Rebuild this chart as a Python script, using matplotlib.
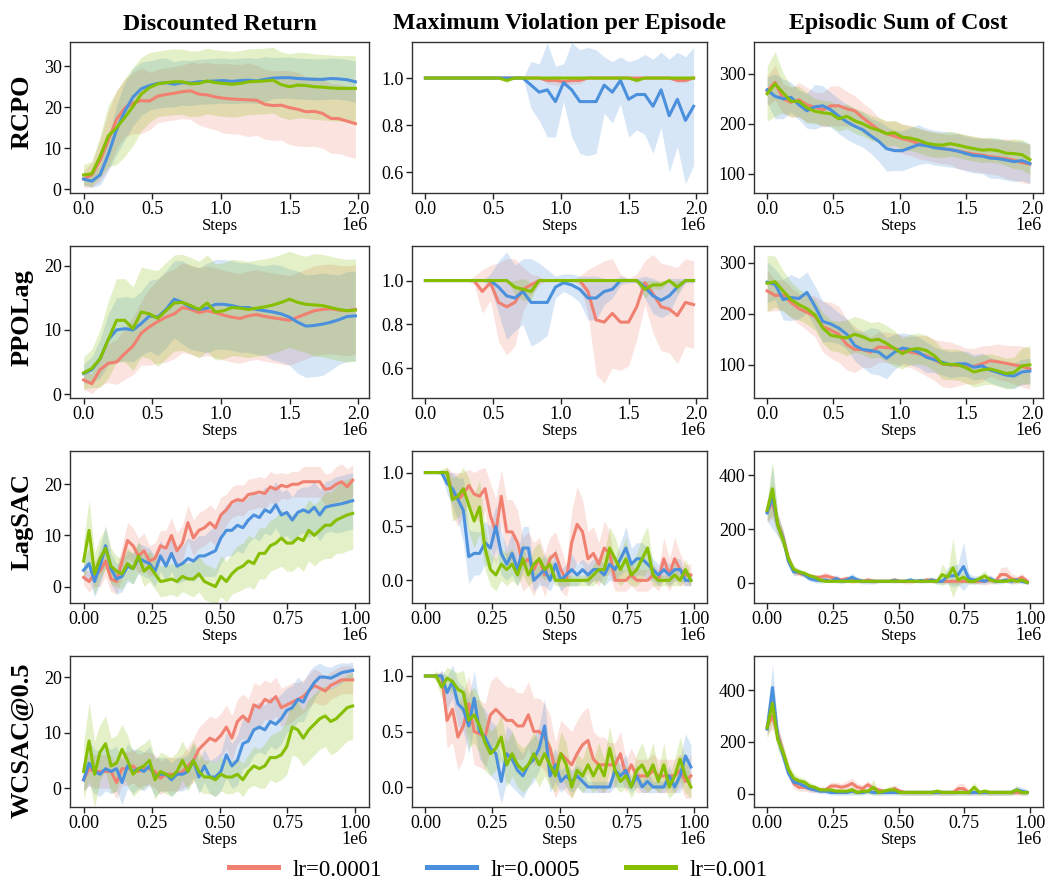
import numpy as np
import matplotlib
matplotlib.use("Agg")
import matplotlib.pyplot as plt
from matplotlib.lines import Line2D

plt.rcParams['font.family'] = ['Liberation Serif', 'DejaVu Serif']

# ---------------- data ----------------
METRICS = ["Discounted Return", "Maximum Violation per Episode", "Episodic Sum of Cost"]
ALGOS = ["RCPO", "PPOLag", "LagSAC", "WCSAC@0.5"]
LABELS = ["lr=0.0001", "lr=0.0005", "lr=0.001"]
COLORS = ["#F08070", "#4A90DC", "#86BE00"]

steps_long = np.linspace(0, 1.98e6, 34)    # RCPO, PPOLag
steps_short = np.linspace(0, 0.99e6, 50)   # LagSAC, WCSAC

# ---- RCPO ----
rcpo_ret_r = [2.5, 3.5, 7, 12, 17, 19.8, 21, 21.6, 21.5, 22.7, 23.1, 23.4, 23.8, 24, 23.2, 23, 22.5, 22.2, 22, 21.9,
              21.8, 21.7, 20.7, 20.4, 20.5, 19.9, 19.5, 18.9, 19, 18.5, 17.3, 17.2, 16.6, 16]
rcpo_ret_r_sd = [2, 3, 5, 7, 7, 7, 7.5, 8, 7, 6.5, 6.5, 6.5, 6.5, 7, 7.5, 8, 8, 8.5, 8.5, 8.5,
                 9, 8.5, 8.5, 8.5, 8.5, 9, 9, 8.5, 8.5, 8.5, 8.5, 8.5, 8.5, 8.5]
rcpo_ret_b = [2.5, 2, 3.5, 8.5, 14.5, 19, 22.5, 24.5, 25.3, 25.8, 26, 25.6, 26, 25.9, 26.2, 26.3, 26.4, 26.5, 26.3, 26.5,
              26.6, 26.4, 26.8, 27.1, 27.2, 27.2, 27, 26.9, 26.8, 26.8, 27, 26.9, 26.7, 26.2]
rcpo_ret_b_sd = [1.5, 1.5, 2.5, 4, 6, 7, 7, 6.5, 6, 6, 6, 5.5, 5.5, 5.5, 5.5, 5.5, 5.5, 5.5, 5.5, 5.5,
                 5.5, 5.5, 5.5, 5, 5, 5, 5, 5, 5, 5, 5, 5, 5, 5]
rcpo_ret_g = [3.5, 3.8, 8, 13, 15, 17.5, 20.2, 23.2, 24.8, 25.7, 26, 26.2, 26.2, 25.7, 25.8, 26.4, 26, 25.8, 25.6, 25.8,
              26.2, 26.3, 26.4, 26.6, 25.5, 25, 25.4, 25.3, 25, 24.9, 24.7, 24.6, 24.6, 24.6]
rcpo_ret_g_sd = [2.5, 3, 5, 7.5, 9, 9.5, 9.5, 9, 8.5, 8, 8, 8, 8, 8, 8, 8, 8, 8, 8, 8,
                 8, 8, 8, 8, 8, 8, 8, 8, 8, 8, 8, 8, 8, 8]

rcpo_vio_r = [1, 1, 1, 1, 1, 1, 1, 1, 1, 1, 1, 1, 1, 1, 1, 0.99, 0.99, 0.985, 0.99, 0.99,
              1, 1, 1, 1, 1, 1, 1, 1, 1, 1, 1, 0.99, 0.99, 1]
rcpo_vio_r_sd = [0, 0, 0, 0, 0, 0, 0, 0, 0, 0, 0, 0, 0, 0, 0, 0.015, 0.02, 0.02, 0.015, 0.015,
                 0, 0, 0, 0, 0, 0, 0, 0, 0, 0, 0, 0.01, 0.01, 0]
rcpo_vio_b = [1, 1, 1, 1, 1, 1, 1, 1, 1, 1, 1, 1, 1, 0.97, 0.94, 0.95, 0.90, 0.98, 0.95, 0.90,
              0.90, 0.90, 0.97, 0.94, 0.99, 0.91, 0.93, 0.93, 0.88, 0.95, 0.84, 0.91, 0.82, 0.88]
rcpo_vio_b_sd = [0, 0, 0, 0, 0, 0, 0, 0, 0, 0, 0, 0, 0, 0.1, 0.12, 0.2, 0.15, 0.08, 0.2, 0.22,
                 0.23, 0.22, 0.12, 0.13, 0.1, 0.16, 0.15, 0.17, 0.2, 0.16, 0.24, 0.2, 0.27, 0.25]
rcpo_vio_g = [1, 1, 1, 1, 1, 1, 1, 1, 1, 1, 0.99, 1, 1, 1, 1, 1, 1, 1, 1, 1,
              1, 1, 1, 1, 1, 1, 0.99, 1, 1, 1, 1, 1, 1, 1]
rcpo_vio_g_sd = [0, 0, 0, 0, 0, 0, 0, 0, 0, 0, 0.01, 0, 0, 0, 0, 0, 0, 0, 0, 0,
                 0, 0, 0, 0, 0, 0, 0.01, 0, 0, 0, 0, 0, 0, 0]

rcpo_cost_r = [265, 283, 250, 243, 248, 238, 233, 228, 236, 236, 230, 226, 212, 200, 188, 180, 175, 170, 166, 160,
               157, 153, 150, 148, 145, 142, 139, 137, 134, 132, 130, 127, 122, 119]
rcpo_cost_r_sd = [30, 35, 30, 30, 35, 35, 30, 35, 40, 40, 35, 30, 30, 30, 25, 25, 30, 30, 30, 30,
                  30, 30, 30, 30, 35, 35, 35, 35, 35, 35, 40, 40, 40, 40]
rcpo_cost_b = [268, 255, 250, 253, 238, 226, 234, 236, 228, 215, 204, 195, 188, 176, 165, 150, 146, 146, 152, 158,
               156, 152, 150, 148, 145, 140, 136, 135, 131, 130, 127, 124, 126, 120]
rcpo_cost_b_sd = [25, 45, 40, 30, 30, 35, 45, 40, 35, 35, 35, 35, 35, 35, 40, 45, 40, 40, 40, 40,
                  35, 35, 35, 35, 35, 35, 35, 35, 40, 40, 40, 40, 40, 40]
rcpo_cost_g = [260, 280, 262, 245, 245, 232, 225, 222, 220, 210, 215, 206, 200, 192, 187, 180, 182, 173, 171, 167,
               161, 158, 157, 160, 157, 153, 150, 147, 148, 146, 141, 140, 138, 128]
rcpo_cost_g_sd = [55, 65, 40, 30, 30, 30, 25, 25, 25, 25, 25, 25, 25, 25, 25, 25, 25, 25, 25, 25,
                  25, 25, 25, 25, 25, 25, 25, 25, 25, 25, 25, 30, 30, 30]

# ---- PPOLag ----
ppo_ret_r = [2.2, 1.6, 3.8, 4.8, 5, 6.3, 7.5, 9.5, 10.5, 11.3, 12, 12.5, 13.5, 13.2, 12.7, 13, 12.7, 12.3, 12, 11.8,
             12.2, 12.4, 12.1, 11.9, 11.7, 11.5, 12, 12.5, 13, 13.2, 13.3, 13.1, 13, 13.2]
ppo_ret_r_sd = [1.5, 1.5, 2.5, 3, 3.5, 4, 4.5, 5, 6, 6.5, 7, 7, 7, 7, 7, 7, 7, 7, 7, 7,
                7, 7, 7, 7, 7, 7, 7, 7, 7, 7, 7, 7, 7, 7]
ppo_ret_b = [3.2, 3.8, 5.5, 8.5, 10, 10.2, 10, 11, 12.2, 12, 13.2, 14.8, 14.3, 13.5, 13.2, 13.4, 14, 14, 13.8, 13.5,
             13.5, 13.2, 13, 12.8, 12.5, 12, 11.2, 10.6, 10.7, 10.9, 11.2, 11.6, 12.1, 12.2]
ppo_ret_b_sd = [1.5, 2, 3, 4, 5, 5, 5, 5, 5.5, 6, 6, 6, 6.5, 6.5, 6.5, 7, 7, 7, 7, 7,
                7, 7, 7, 7.5, 7.5, 7.5, 8, 8, 8, 8, 7.5, 7, 7, 7]
ppo_ret_g = [3.3, 4, 5.5, 8.5, 11.5, 11.5, 10.2, 12.8, 12.5, 11.8, 13, 14.2, 14.3, 13.8, 13.2, 14.2, 12.8, 13, 13.5, 13.4,
             13.2, 13.4, 13.6, 13.9, 14.3, 14.8, 14.3, 14, 13.9, 13.8, 13.5, 13.2, 13, 13.1]
ppo_ret_g_sd = [2.5, 3, 4.5, 6, 6.5, 6.5, 6.5, 7, 7, 7.5, 7.5, 7.5, 7.5, 7.5, 7.5, 7.5, 7.5, 7.5, 7.5, 7.5,
                7.5, 7.5, 7.5, 7.5, 7.5, 7.5, 7.5, 7.5, 8, 8, 8, 8, 8, 8]

ppo_vio_r = [1, 1, 1, 1, 1, 1, 1, 0.95, 0.99, 0.9, 0.88, 0.9, 0.96, 0.98, 1.0, 1.0, 1.0, 1.0, 1.0, 1.0,
             0.95, 0.82, 0.81, 0.85, 0.81, 0.81, 0.88, 0.99, 0.94, 0.88, 0.87, 0.84, 0.9, 0.89]
ppo_vio_r_sd = [0, 0, 0, 0, 0, 0, 0.02, 0.1, 0.08, 0.18, 0.22, 0.2, 0.1, 0.05, 0.02, 0, 0, 0, 0, 0.02,
                0.1, 0.25, 0.28, 0.25, 0.22, 0.2, 0.15, 0.1, 0.18, 0.2, 0.2, 0.22, 0.2, 0.2]
ppo_vio_b = [1, 1, 1, 1, 1, 1, 1, 1, 1, 0.97, 0.93, 0.92, 0.95, 0.9, 0.9, 0.9, 0.97, 0.99, 0.98, 0.96,
             0.92, 0.92, 0.95, 0.96, 1.0, 1.0, 1.0, 0.97, 0.93, 0.91, 0.93, 0.97, 1.0, 1.0]
ppo_vio_b_sd = [0, 0, 0, 0, 0, 0, 0, 0, 0.03, 0.12, 0.2, 0.15, 0.15, 0.2, 0.18, 0.15, 0.05, 0.04, 0.05, 0.06,
                0.1, 0.1, 0.06, 0.04, 0.02, 0.01, 0.01, 0.05, 0.08, 0.08, 0.08, 0.04, 0.01, 0.01]
ppo_vio_g = [1, 1, 1, 1, 1, 1, 1, 1, 1, 1, 1, 0.97, 0.96, 0.95, 1, 1, 1, 1, 1, 1,
             1, 1, 1, 1, 1, 1, 1, 0.96, 0.98, 0.98, 1, 0.97, 1, 1]
ppo_vio_g_sd = [0, 0, 0, 0, 0, 0, 0, 0, 0, 0, 0, 0.03, 0.05, 0.04, 0, 0, 0, 0, 0, 0,
                0, 0, 0, 0, 0, 0, 0, 0.04, 0.02, 0.02, 0, 0.03, 0, 0]

ppo_cost_r = [245, 236, 237, 222, 210, 203, 195, 175, 168, 160, 140, 130, 130, 125, 135, 134, 132, 128, 125, 122,
              118, 110, 102, 100, 99, 98, 97, 102, 108, 106, 103, 100, 97, 92]
ppo_cost_r_sd = [40, 30, 30, 30, 30, 35, 40, 50, 55, 55, 50, 45, 35, 30, 30, 30, 30, 30, 30, 35,
                 40, 40, 45, 45, 40, 35, 35, 35, 30, 35, 35, 38, 40, 40]
ppo_cost_b = [262, 258, 228, 232, 230, 242, 215, 185, 180, 172, 160, 138, 130, 128, 125, 113, 125, 133, 130, 125,
              115, 110, 105, 100, 102, 102, 95, 98, 90, 85, 80, 78, 86, 88]
ppo_cost_b_sd = [40, 30, 40, 45, 40, 40, 40, 40, 35, 30, 30, 30, 35, 45, 45, 40, 35, 30, 30, 30,
                 30, 25, 25, 25, 25, 25, 25, 25, 25, 25, 25, 25, 25, 25]
ppo_cost_g = [260, 263, 245, 228, 218, 210, 198, 172, 158, 155, 153, 160, 155, 148, 150, 142, 132, 122, 130, 132,
              128, 118, 102, 101, 100, 94, 86, 90, 92, 88, 83, 85, 98, 100]
ppo_cost_g_sd = [55, 50, 40, 35, 30, 30, 30, 30, 30, 30, 35, 35, 35, 35, 35, 35, 35, 30, 30, 30,
                 30, 30, 30, 30, 30, 30, 30, 30, 30, 30, 30, 30, 35, 38]

# ---- LagSAC ----
lag_ret_r = [1.8, 1.0, 2.5, 3.0, 5.0, 1.5, 1.0, 5.0, 9.0, 8.0, 6.0, 7.0, 5.0, 5.5, 8.0, 7.5, 10.0, 7.0, 8.5, 12.5,
             9.5, 11.0, 11.5, 12.5, 11.5, 14.0, 15.0, 16.5, 17.0, 16.8, 18.0, 18.2, 18.5, 18.2, 19.5, 19.0, 19.8, 19.5, 20.0, 20.0,
             20.5, 20.5, 20.5, 20.5, 19.0, 19.2, 20.0, 20.5, 19.5, 20.8]
lag_ret_r_sd = [1.5, 2, 2.5, 3, 3, 2.5, 2.5, 3, 3.5, 3.5, 3.5, 3.5, 3, 3, 3, 3.5, 3.5, 3.5, 3.5, 3.5,
                3.5, 3.5, 3.5, 3.5, 3.5, 3.5, 3, 3, 3, 3, 3, 3, 3, 3, 3, 3, 2.5, 2.5, 2.5, 2.5,
                3, 3, 3, 3, 3, 3, 3.5, 3.5, 3.5, 3]
lag_ret_b = [3.2, 4.5, 1.0, 4.0, 8.0, 3.5, 1.5, 2.0, 4.0, 3.5, 5.5, 5.0, 4.5, 3.0, 6.0, 4.0, 6.5, 4.0, 4.5, 5.5,
             5.0, 6.0, 6.0, 6.5, 7.0, 9.5, 11.0, 11.0, 12.0, 11.5, 13.0, 14.0, 13.5, 15.0, 14.5, 16.0, 14.0, 14.5, 13.0, 14.5,
             15.0, 14.5, 15.5, 14.0, 15.5, 15.8, 16.0, 16.2, 16.5, 16.8]
lag_ret_b_sd = [2, 3, 3, 3.5, 4, 3, 3, 3, 3, 3, 3, 3, 3, 3, 3, 3, 3.5, 3.5, 3.5, 4,
                4, 4, 4, 4.5, 5, 5, 5, 5, 5, 5, 4.5, 4.5, 4.5, 4.5, 4.5, 4.5, 4.5, 4.5, 4.5, 4.5,
                4.5, 5, 5, 5, 5, 5, 5.5, 5.5, 5.5, 5.5]
lag_ret_g = [5.0, 11.0, 2.5, 5.5, 7.5, 4.0, 3.0, 2.5, 4.5, 3.5, 6.0, 3.0, 4.0, 2.5, 1.0, 1.2, 1.5, 1.0, 2.0, 1.5,
             1.5, 2.5, 1.0, 0.5, 0.0, 2.0, 1.0, 2.5, 3.5, 4.0, 5.0, 4.5, 6.5, 6.5, 8.0, 8.5, 9.5, 8.5, 8.5, 9.5,
             9.0, 11.0, 10.0, 11.0, 12.0, 12.0, 13.0, 13.5, 14.0, 14.3]
lag_ret_g_sd = [4, 6, 4, 4, 4, 3.5, 3, 3, 3, 3, 3, 3, 3, 3, 3, 3, 3, 3, 3, 3,
                3.5, 3.5, 3.5, 3.5, 3.5, 4, 4, 4, 4.5, 4.5, 5, 5, 5, 5, 5, 5, 5.5, 5.5, 5.5, 5.5,
                6, 6, 6, 6, 6.5, 6.5, 6.5, 7, 7, 7]

lag_vio_r = [1, 1, 1, 1, 1, 0.8, 0.75, 0.8, 0.88, 0.8, 0.78, 0.85, 0.6, 0.45, 0.78, 0.45, 0.45, 0.35, 0.15, 0.2,
             0.1, 0.2, 0.05, 0.2, 0.25, 0.1, 0.0, 0.35, 0.52, 0.45, 0.2, 0.25, 0.15, 0.3, 0.25, 0.0, 0.0, 0.0, 0.05, 0.0,
             0.0, 0.0, 0.05, 0.0, 0.2, 0.05, 0.2, 0.1, 0.05, 0.05]
lag_vio_r_sd = [0, 0, 0, 0, 0.05, 0.2, 0.25, 0.2, 0.15, 0.2, 0.25, 0.2, 0.3, 0.3, 0.25, 0.3, 0.3, 0.3, 0.25, 0.25,
                0.25, 0.2, 0.2, 0.2, 0.2, 0.2, 0.15, 0.3, 0.35, 0.3, 0.25, 0.25, 0.2, 0.25, 0.2, 0.1, 0.1, 0.1, 0.1, 0.1,
                0.1, 0.1, 0.1, 0.1, 0.2, 0.15, 0.2, 0.15, 0.1, 0.1]
lag_vio_b = [1, 1, 1, 1, 0.9, 0.85, 0.75, 0.65, 0.22, 0.25, 0.25, 0.35, 0.3, 0.5, 0.25, 0.15, 0.25, 0.1, 0.3, 0.3,
             0.0, 0.05, 0.1, 0.0, 0.15, 0.0, 0.05, 0.1, 0.05, 0.1, 0.05, 0.1, 0.1, 0.05, 0.15, 0.1, 0.2, 0.3, 0.15, 0.2,
             0.2, 0.15, 0.1, 0.05, 0.1, 0.05, 0.1, 0.1, 0.0, 0.0]
lag_vio_b_sd = [0, 0, 0, 0.03, 0.1, 0.15, 0.2, 0.3, 0.25, 0.2, 0.2, 0.2, 0.2, 0.2, 0.2, 0.15, 0.2, 0.15, 0.2, 0.2,
                0.1, 0.1, 0.15, 0.1, 0.15, 0.1, 0.1, 0.15, 0.1, 0.1, 0.1, 0.1, 0.1, 0.1, 0.15, 0.1, 0.15, 0.2, 0.15, 0.15,
                0.15, 0.15, 0.1, 0.1, 0.1, 0.1, 0.1, 0.1, 0.05, 0.05]
lag_vio_g = [1, 1, 1, 1, 1, 0.75, 0.78, 0.85, 0.7, 0.55, 0.68, 0.3, 0.1, 0.05, 0.15, 0.1, 0.15, 0.05, 0.2, 0.05,
             0.15, 0.2, 0.1, 0.15, 0.0, 0.0, 0.0, 0.0, 0.0, 0.0, 0.0, 0.05, 0.1, 0.1, 0.3, 0.2, 0.1, 0.2, 0.05, 0.1,
             0.2, 0.3, 0.05, 0.0, 0.0, 0.0, 0.05, 0.0, 0.1, 0.0]
lag_vio_g_sd = [0, 0, 0, 0.03, 0.05, 0.2, 0.2, 0.2, 0.25, 0.25, 0.25, 0.2, 0.15, 0.15, 0.15, 0.15, 0.15, 0.1, 0.15, 0.1,
                0.15, 0.15, 0.1, 0.1, 0.05, 0.05, 0.05, 0.05, 0.05, 0.05, 0.05, 0.1, 0.1, 0.15, 0.2, 0.2, 0.15, 0.2, 0.1, 0.15,
                0.2, 0.2, 0.1, 0.05, 0.05, 0.05, 0.1, 0.05, 0.1, 0.05]

lag_cost_r = [265, 300, 220, 170, 90, 45, 35, 30, 25, 20, 20, 25, 20, 15, 10, 15, 10, 10, 5, 10,
              5, 5, 5, 5, 10, 5, 5, 5, 5, 5, 10, 10, 5, 5, 5, 5, 5, 5, 5, 5,
              5, 5, 10, 5, 30, 30, 15, 10, 20, 5]
lag_cost_r_sd = [40, 60, 40, 30, 20, 15, 10, 10, 10, 10, 10, 15, 10, 10, 10, 10, 15, 10, 5, 10,
                 10, 5, 5, 5, 10, 5, 10, 10, 5, 5, 10, 10, 5, 5, 5, 10, 10, 5, 5, 10,
                 10, 15, 15, 10, 25, 30, 20, 15, 15, 10]
lag_cost_b = [260, 320, 215, 165, 80, 40, 40, 30, 15, 10, 8, 10, 5, 15, 5, 10, 20, 10, 5, 5,
              5, 5, 5, 5, 8, 5, 5, 10, 5, 8, 5, 10, 5, 5, 25, 25, 30, 60, 15, 10,
              10, 5, 15, 5, 5, 10, 5, 10, 5, 0]
lag_cost_b_sd = [30, 120, 40, 30, 20, 15, 10, 10, 10, 10, 10, 10, 5, 15, 10, 10, 15, 10, 10, 10,
                 10, 5, 5, 5, 10, 5, 5, 10, 5, 10, 5, 10, 10, 10, 30, 40, 40, 90, 20, 15,
                 15, 10, 15, 10, 10, 10, 10, 10, 10, 5]
lag_cost_g = [270, 350, 215, 160, 90, 50, 40, 35, 25, 20, 10, 5, 5, 5, 5, 5, 5, 5, 5, 5,
              5, 5, 5, 5, 5, 5, 5, 5, 5, 5, 5, 5, 5, 30, 20, 55, 10, 20, 5, 5,
              15, 25, 10, 5, 5, 5, 10, 5, 10, 0]
lag_cost_g_sd = [40, 100, 40, 30, 20, 15, 10, 10, 10, 10, 10, 5, 5, 5, 5, 5, 5, 5, 5, 5,
                 5, 5, 5, 5, 5, 5, 5, 5, 5, 5, 5, 5, 10, 40, 20, 110, 20, 20, 10, 10,
                 15, 20, 10, 5, 5, 5, 10, 5, 10, 5]

# ---- WCSAC@0.5 ----
wc_ret_r = [1.5, 3.5, 3, 3, 3, 3, 1, 3.5, 3.5, 4, 3, 3.5, 3.5, 3, 1.8, 2.5, 2.5, 2.5, 3, 4,
            5, 7, 8, 9, 8.5, 9.5, 11, 9, 12, 13, 12, 15, 14.5, 16, 15.5, 16.5, 14.5, 15, 15.5, 16,
            16.5, 17.5, 18.5, 18, 17.5, 18.5, 19, 19.5, 19.5, 19.5]
wc_ret_r_sd = [2, 3, 3, 3, 3, 3, 3, 3, 3, 3, 3, 3, 3, 3, 3, 3, 3, 3, 3, 3.5,
               4, 4, 4, 4, 4, 4, 4, 4, 4, 4, 4, 4, 4, 3.5, 3.5, 3.5, 3.5, 3.5, 3.5, 3,
               3, 3, 3, 3, 2.5, 2.5, 2.5, 2.5, 2.5, 2.5]
wc_ret_b = [1.5, 4.5, 3, 2.5, 3.5, 3, 3.5, 1, 4, 3, 3.5, 3, 4, 2, 2.5, 2.5, 1.5, 2.5, 2.5, 3,
            5, 2, 4, 2, 2, 3, 6, 4, 5, 8, 8.5, 10.5, 11, 10.5, 12, 11.5, 12.5, 14, 14.5, 16,
            15.5, 17.5, 19, 20, 20, 19.8, 20.3, 20.8, 21, 21.2]
wc_ret_b_sd = [2, 4, 4, 4, 4, 4, 4, 4, 4, 4, 3.5, 3.5, 3.5, 3.5, 3, 3, 3, 3, 3, 3,
               3, 3, 3, 3, 3.5, 3.5, 4, 4, 4.5, 4.5, 4.5, 4.5, 4.5, 4.5, 4.5, 4.5, 4.5, 4, 4, 4,
               3.5, 3.5, 3, 2.5, 2, 2, 2, 1.8, 1.5, 1.5]
wc_ret_g = [3, 8.5, 2.5, 6.5, 8, 4, 4.5, 7, 5, 2.5, 3.5, 4, 5, 1.5, 3, 2.5, 2, 3, 5, 3,
            5, 3, 2, 2, 1.5, 2.5, 2, 2, 2.5, 1.5, 3, 4, 3.5, 4, 5.5, 5.5, 6, 7.5, 11, 10.5,
            9, 10.5, 11.5, 12.5, 13, 12, 12.5, 13.5, 14.5, 14.8]
wc_ret_g_sd = [5, 7, 6, 5, 5, 5, 5, 4.5, 4.5, 4, 4, 4, 4, 3.5, 3.5, 3.5, 3.5, 3.5, 3.5, 3.5,
               3.5, 3.5, 3, 3, 3, 3, 3, 3, 3, 3, 3, 3.5, 3.5, 4, 4, 4.5, 4.5, 5, 5, 5,
               5, 5.5, 5.5, 5.5, 5.5, 6, 6, 6, 6, 6]

wc_vio_r = [1, 1, 1, 1, 0.6, 0.7, 0.45, 0.55, 0.75, 0.5, 0.48, 0.45, 0.65, 0.7, 0.65, 0.6, 0.6, 0.55, 0.55, 0.65,
            0.5, 0.5, 0.45, 0.35, 0.15, 0.3, 0.25, 0.2, 0.3, 0.38, 0.42, 0.25, 0.2, 0.2, 0.2, 0.2, 0.3, 0.1, 0.2, 0.1,
            0.1, 0.1, 0.15, 0.1, 0.1, 0.1, 0.1, 0.15, 0.05, 0.1]
wc_vio_r_sd = [0, 0, 0, 0.05, 0.25, 0.3, 0.3, 0.3, 0.25, 0.3, 0.3, 0.3, 0.3, 0.3, 0.3, 0.3, 0.3, 0.3, 0.3, 0.3,
               0.3, 0.3, 0.3, 0.3, 0.25, 0.3, 0.3, 0.3, 0.3, 0.3, 0.3, 0.25, 0.25, 0.25, 0.2, 0.2, 0.2, 0.15, 0.15, 0.15,
               0.15, 0.15, 0.15, 0.15, 0.15, 0.15, 0.15, 0.15, 0.15, 0.2]
wc_vio_b = [1, 1, 1, 1, 0.85, 0.95, 0.75, 0.7, 0.55, 0.8, 0.5, 0.45, 0.35, 0.3, 0.05, 0.3, 0.25, 0.15, 0.1, 0.2,
            0.25, 0.35, 0.55, 0.1, 0.2, 0.05, 0.1, 0.05, 0.1, 0.05, 0.0, 0.0, 0.0, 0.0, 0.0, 0.15, 0.1, 0.15, 0.0, 0.1,
            0.0, 0.05, 0.0, 0.0, 0.0, 0.1, 0.0, 0.1, 0.28, 0.18]
wc_vio_b_sd = [0, 0, 0, 0.05, 0.15, 0.15, 0.2, 0.2, 0.25, 0.25, 0.25, 0.25, 0.25, 0.25, 0.2, 0.25, 0.25, 0.2, 0.2, 0.2,
               0.2, 0.2, 0.25, 0.15, 0.15, 0.1, 0.1, 0.1, 0.1, 0.1, 0.05, 0.05, 0.05, 0.05, 0.05, 0.15, 0.1, 0.15, 0.05, 0.1,
               0.05, 0.1, 0.05, 0.05, 0.05, 0.1, 0.05, 0.15, 0.2, 0.2]
wc_vio_g = [1, 1, 1, 0.9, 0.98, 0.95, 0.88, 0.85, 0.6, 0.65, 0.55, 0.4, 0.3, 0.35, 0.45, 0.2, 0.3, 0.2, 0.15, 0.2,
            0.3, 0.2, 0.3, 0.2, 0.1, 0.3, 0.2, 0.0, 0.15, 0.1, 0.2, 0.1, 0.2, 0.1, 0.35, 0.15, 0.05, 0.1, 0.0, 0.15,
            0.2, 0.1, 0.2, 0.05, 0.2, 0.0, 0.1, 0.25, 0.1, 0.0]
wc_vio_g_sd = [0, 0, 0.05, 0.1, 0.1, 0.1, 0.15, 0.2, 0.25, 0.25, 0.25, 0.25, 0.2, 0.2, 0.2, 0.2, 0.2, 0.2, 0.2, 0.2,
               0.2, 0.2, 0.2, 0.2, 0.15, 0.2, 0.2, 0.1, 0.15, 0.15, 0.2, 0.15, 0.2, 0.15, 0.2, 0.15, 0.1, 0.1, 0.1, 0.15,
               0.2, 0.15, 0.2, 0.1, 0.2, 0.1, 0.15, 0.2, 0.15, 0.1]

wc_cost_r = [260, 300, 230, 160, 90, 40, 25, 25, 20, 15, 15, 15, 30, 30, 25, 30, 40, 25, 20, 35,
             20, 15, 10, 10, 20, 10, 5, 5, 5, 5, 5, 5, 5, 5, 5, 5, 20, 20, 5, 5,
             5, 5, 5, 5, 5, 5, 5, 5, 5, 5]
wc_cost_r_sd = [30, 50, 40, 30, 25, 20, 15, 15, 15, 10, 10, 10, 15, 15, 15, 20, 20, 15, 15, 15,
                15, 10, 10, 10, 15, 10, 10, 10, 10, 10, 10, 10, 10, 10, 10, 10, 20, 20, 10, 10,
                10, 10, 10, 10, 10, 10, 10, 10, 10, 10]
wc_cost_b = [250, 410, 220, 150, 80, 45, 40, 30, 20, 15, 10, 10, 5, 5, 5, 5, 10, 5, 5, 10,
             5, 5, 5, 5, 5, 5, 5, 5, 5, 5, 5, 5, 5, 5, 5, 5, 5, 5, 5, 5,
             5, 5, 5, 5, 5, 5, 5, 15, 10, 5]
wc_cost_b_sd = [30, 90, 40, 30, 20, 15, 15, 10, 10, 10, 10, 10, 10, 10, 10, 10, 15, 10, 10, 10,
                10, 10, 10, 10, 10, 10, 10, 10, 10, 10, 10, 10, 10, 10, 10, 10, 10, 10, 10, 10,
                10, 10, 10, 10, 10, 10, 10, 15, 15, 10]
wc_cost_g = [255, 350, 210, 160, 95, 60, 50, 45, 30, 25, 15, 15, 15, 10, 10, 10, 15, 5, 10, 10,
             25, 5, 10, 15, 15, 5, 5, 5, 5, 5, 5, 5, 10, 5, 5, 5, 5, 5, 5, 25,
             5, 10, 5, 5, 5, 5, 5, 15, 5, 5]
wc_cost_g_sd = [40, 80, 40, 30, 25, 20, 15, 15, 15, 10, 10, 10, 10, 10, 10, 10, 15, 10, 10, 10,
                30, 10, 10, 15, 15, 10, 10, 10, 10, 10, 10, 10, 10, 10, 10, 10, 10, 10, 10, 20,
                10, 10, 10, 10, 10, 10, 10, 15, 10, 10]

# panel table built from the named arrays above
PANELS = [
    [(steps_long, [(rcpo_ret_r, rcpo_ret_r_sd), (rcpo_ret_b, rcpo_ret_b_sd), (rcpo_ret_g, rcpo_ret_g_sd)]),
     (steps_long, [(rcpo_vio_r, rcpo_vio_r_sd), (rcpo_vio_b, rcpo_vio_b_sd), (rcpo_vio_g, rcpo_vio_g_sd)]),
     (steps_long, [(rcpo_cost_r, rcpo_cost_r_sd), (rcpo_cost_b, rcpo_cost_b_sd), (rcpo_cost_g, rcpo_cost_g_sd)])],
    [(steps_long, [(ppo_ret_r, ppo_ret_r_sd), (ppo_ret_b, ppo_ret_b_sd), (ppo_ret_g, ppo_ret_g_sd)]),
     (steps_long, [(ppo_vio_r, ppo_vio_r_sd), (ppo_vio_b, ppo_vio_b_sd), (ppo_vio_g, ppo_vio_g_sd)]),
     (steps_long, [(ppo_cost_r, ppo_cost_r_sd), (ppo_cost_b, ppo_cost_b_sd), (ppo_cost_g, ppo_cost_g_sd)])],
    [(steps_short, [(lag_ret_r, lag_ret_r_sd), (lag_ret_b, lag_ret_b_sd), (lag_ret_g, lag_ret_g_sd)]),
     (steps_short, [(lag_vio_r, lag_vio_r_sd), (lag_vio_b, lag_vio_b_sd), (lag_vio_g, lag_vio_g_sd)]),
     (steps_short, [(lag_cost_r, lag_cost_r_sd), (lag_cost_b, lag_cost_b_sd), (lag_cost_g, lag_cost_g_sd)])],
    [(steps_short, [(wc_ret_r, wc_ret_r_sd), (wc_ret_b, wc_ret_b_sd), (wc_ret_g, wc_ret_g_sd)]),
     (steps_short, [(wc_vio_r, wc_vio_r_sd), (wc_vio_b, wc_vio_b_sd), (wc_vio_g, wc_vio_g_sd)]),
     (steps_short, [(wc_cost_r, wc_cost_r_sd), (wc_cost_b, wc_cost_b_sd), (wc_cost_g, wc_cost_g_sd)])],
]

YTICKS = [
    [[0, 10, 20, 30], [0.6, 0.8, 1.0], [100, 200, 300]],
    [[0, 10, 20], [0.6, 0.8, 1.0], [100, 200, 300]],
    [[0, 10, 20], [0.0, 0.5, 1.0], [0, 200, 400]],
    [[0, 10, 20], [0.0, 0.5, 1.0], [0, 200, 400]],
]
YLIMS = [
    [(-0.9, 35.9), (0.512, 1.153), (61, 364)],
    [(-0.62, 23.1), (0.463, 1.158), (35, 333)],
    [(-3.2, 26.5), (-0.21, 1.2), (-76, 491)],
    [(-3.4, 23.8), (-0.18, 1.18), (-51, 532)],
]
XTICKS_LONG = [0, 0.5e6, 1.0e6, 1.5e6, 2.0e6]
XTICKS_SHORT = [0, 0.25e6, 0.5e6, 0.75e6, 1.0e6]
XLIM_LONG = (-0.099e6, 2.079e6)
XLIM_SHORT = (-0.05e6, 1.05e6)

# ---------------- figure ----------------
W, H = 1047, 884
fig = plt.figure(figsize=(W / 100, H / 100), dpi=100)
col_px = [(70, 369), (412, 707), (754, 1043)]
row_px = [(42, 193), (246, 398), (451, 603), (656, 807)]
label_centers = [112, 318, 522, 740]

for r in range(4):
    top, bot = row_px[r]
    for c in range(3):
        left, right = col_px[c]
        ax = fig.add_axes([left / W, 1 - bot / H, (right - left) / W, (bot - top) / H])
        steps, series = PANELS[r][c]
        for (mean, sd), color in zip(series, COLORS):
            m = np.asarray(mean, dtype=float)
            s = np.asarray(sd, dtype=float)
            ax.fill_between(steps, m - s, m + s, color=color, alpha=0.22, linewidth=0)
            ax.plot(steps, m, color=color, lw=2.2, solid_joinstyle='round')
        ax.set_xticks(XTICKS_LONG if r < 2 else XTICKS_SHORT)
        ax.set_xlim(*(XLIM_LONG if r < 2 else XLIM_SHORT))
        ax.set_yticks(YTICKS[r][c])
        ax.set_ylim(*YLIMS[r][c])
        ax.ticklabel_format(axis='x', style='sci', scilimits=(0, 0))
        ax.xaxis.get_offset_text().set_visible(False)
        ax.annotate("1e6", xy=(1, 0), xycoords='axes fraction', xytext=(-1, -37),
                    textcoords='offset pixels', ha='right', va='baseline', fontsize=13)
        ax.tick_params(direction='out', length=4, width=1, labelsize=13, pad=2,
                       top=False, right=False, colors='#222222', labelcolor='black')
        for sp in ax.spines.values():
            sp.set_color('#333333')
            sp.set_linewidth(1.0)
        ax.set_xlabel("Steps", fontsize=12, labelpad=0)
        if r == 0:
            ax.set_title(METRICS[c], fontsize=17.2, fontweight='bold', pad=9)
    fig.text(22 / W, 1 - label_centers[r] / H, ALGOS[r], rotation=90, fontsize=19,
             fontweight='bold', ha='center', va='center')

handles = [Line2D([0], [0], color=col, lw=3.6) for col in COLORS]
fig.legend(handles, LABELS, loc='center', bbox_to_anchor=(498 / W, 1 - 870 / H), ncol=3,
           frameon=False, fontsize=16.5, handlelength=2.14, handletextpad=0.65, columnspacing=1.97)

fig.savefig("out.png", dpi=100)
